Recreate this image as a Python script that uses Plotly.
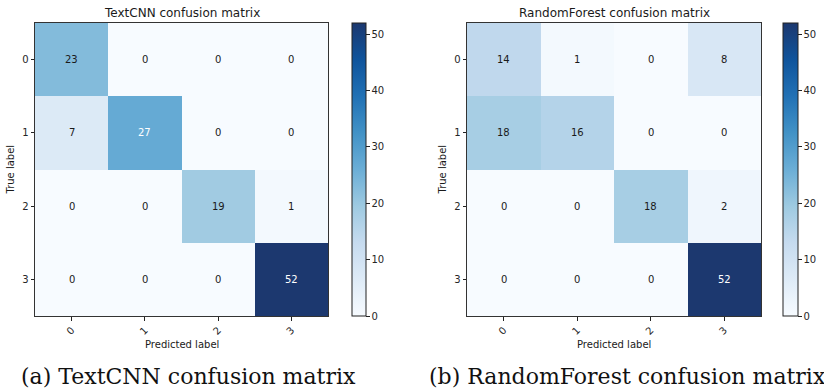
import plotly.graph_objects as go

classes = ["0", "1", "2", "3"]
textcnn_cm = [[23, 0, 0, 0],
              [7, 27, 0, 0],
              [0, 0, 19, 1],
              [0, 0, 0, 52]]
rf_cm = [[14, 1, 0, 8],
         [18, 16, 0, 0],
         [0, 0, 18, 2],
         [0, 0, 0, 52]]
titles = ["TextCNN confusion matrix", "RandomForest confusion matrix"]
captions = ["(a) TextCNN confusion matrix", "(b) RandomForest confusion matrix"]
cbar_ticks = [0, 10, 20, 30, 40, 50]
vmax = 52

W, H = 824, 392
blues = [[0.0, "#f7fbff"], [0.125, "#deebf7"], [0.25, "#c6dbef"], [0.375, "#9ecae1"],
         [0.5, "#6baed6"], [0.625, "#4292c6"], [0.75, "#2171b5"], [0.875, "#0f549c"],
         [1.0, "#1c386f"]]

def px(x):
    return x / W

def py(y):
    return 1 - y / H

panels = [
    dict(cm=textcnn_cm, x0=35, x1=328, cb=352, cbw=14),
    dict(cm=rf_cm, x0=467, x1=761, cb=783, cbw=15),
]
top, bot = 23, 316

fig = go.Figure()
annotations = []
tickfont = dict(family="DejaVu Sans", size=10, color="#262626")
for i, p in enumerate(panels):
    sfx = "" if i == 0 else str(i + 1)
    cm = p["cm"]
    fig.add_trace(go.Heatmap(
        z=cm, x=list(range(len(classes))), y=list(range(len(classes))),
        xaxis="x" + sfx, yaxis="y" + sfx,
        colorscale=blues, zmin=0, zmax=vmax, hoverinfo="z",
        colorbar=dict(
            x=px(p["cb"]), xanchor="left", xref="paper",
            y=py(bot), yanchor="bottom", len=(bot - top) / H, lenmode="fraction",
            thickness=p["cbw"], thicknessmode="pixels",
            outlinecolor="#222", outlinewidth=1,
            tickvals=cbar_ticks, ticks="outside", ticklen=3.5, tickcolor="#222",
            tickfont=tickfont, xpad=0, ypad=0,
        ),
    ))
    ax = dict(domain=[px(p["x0"]), px(p["x1"])], range=[-0.5, 3.5],
              tickvals=list(range(4)), ticktext=classes, tickangle=-45,
              ticks="outside", ticklen=3.5, tickcolor="#222", tickfont=tickfont,
              showline=True, linecolor="#333", linewidth=1, mirror=True,
              showgrid=False, zeroline=False, anchor="y" + sfx, fixedrange=True)
    ay = dict(domain=[py(bot), py(top)], range=[3.5, -0.5],
              tickvals=list(range(4)), ticktext=classes,
              ticks="outside", ticklen=3.5, tickcolor="#222", tickfont=tickfont,
              showline=True, linecolor="#333", linewidth=1, mirror=True,
              showgrid=False, zeroline=False, anchor="x" + sfx, fixedrange=True)
    fig.update_layout(**{"xaxis" + sfx: ax, "yaxis" + sfx: ay})
    for r in range(4):
        for c in range(4):
            v = cm[r][c]
            annotations.append(dict(
                x=c, y=r, xref="x" + sfx, yref="y" + sfx, text=str(v), showarrow=False,
                font=dict(family="DejaVu Sans", size=10,
                          color="white" if v > vmax / 2 else "#1a1a1a")))
    cx = (p["x0"] + p["x1"]) / 2
    annotations.append(dict(x=px(cx), y=py(13), xref="paper", yref="paper",
                            text=titles[i], showarrow=False, xanchor="center", yanchor="middle",
                            font=dict(family="DejaVu Sans", size=12, color="#1a1a1a")))
    annotations.append(dict(x=px(cx), y=py(344), xref="paper", yref="paper",
                            text="Predicted label", showarrow=False, xanchor="center", yanchor="middle",
                            font=dict(family="DejaVu Sans", size=10, color="#1a1a1a")))
    annotations.append(dict(x=px(p["x0"] - 25), y=py((top + bot) / 2), xref="paper", yref="paper",
                            text="True label", showarrow=False, textangle=-90,
                            xanchor="center", yanchor="middle",
                            font=dict(family="DejaVu Sans", size=10, color="#1a1a1a")))
    capx = 188 if i == 0 else 627
    annotations.append(dict(x=px(capx), y=py(376), xref="paper", yref="paper",
                            text=captions[i], showarrow=False, xanchor="center", yanchor="middle",
                            font=dict(family="DejaVu Serif", size=22, color="#111")))

fig.update_layout(width=W, height=H, margin=dict(l=0, r=0, t=0, b=0),
                  paper_bgcolor="white", plot_bgcolor="white",
                  annotations=annotations, showlegend=False)
fig.write_html("out.html", config={"displayModeBar": False},
               post_script="document.body.style.margin='0';document.body.style.overflow='hidden';")
